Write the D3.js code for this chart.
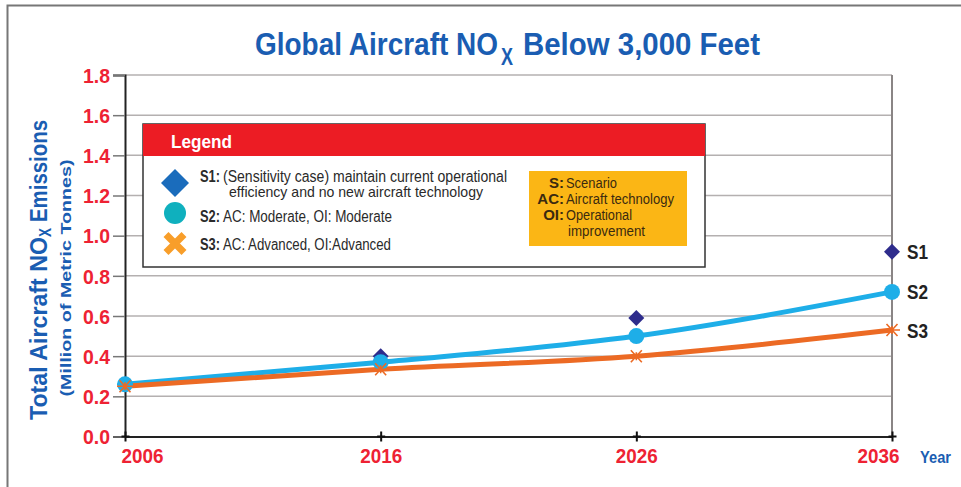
<!DOCTYPE html>
<html>
<head>
<meta charset="utf-8">
<script src="https://cdn.jsdelivr.net/npm/d3@7"></script>
<style>
  body { margin: 0; background: #fff; }
  svg { display: block; font-family: "Liberation Sans", Arial, sans-serif; }
</style>
</head>
<body>
<svg id="chart"></svg>
<script>
const width = 961;
const height = 487;

// chart data
const years = [2006, 2016, 2026, 2036];
const s1Values = [0.26, 0.40, 0.59, 0.92];
const s2Values = [0.26, 0.37, 0.50, 0.72];
const s3Values = [0.25, 0.335, 0.40, 0.53];
const yTicks = [0.0, 0.2, 0.4, 0.6, 0.8, 1.0, 1.2, 1.4, 1.6, 1.8];
const seriesNames = ["S1", "S2", "S3"];

const margin = {left: 125, right: 69, top: 75, bottom: 50};
const plotRight = width - margin.right;
const plotBottom = height - margin.bottom - 0.5;

const blue = "#1a5db2";
const red = "#ee2233";

// squeeze text to a width, the original uses a condensed face
function fit(sel, w) {
    sel.attr("textLength", w).attr("lengthAdjust", "spacingAndGlyphs");
}

// one piece of text, optionally squeezed
function label(parent, txt, opts) {
    const t = parent.append("text")
        .attr("fill", opts.fill || "#2a2a2a")
        .style("font-size", opts.size + "px")
        .style("font-weight", opts.bold ? "bold" : "normal")
        .text(txt);
    if (opts.transform) t.attr("transform", opts.transform);
    else t.attr("x", opts.x).attr("y", opts.y);
    if (opts.anchor) t.attr("text-anchor", opts.anchor);
    if (opts.w) t.call(fit, opts.w);
    return t;
}

const svg = d3.select("#chart").attr("width", width).attr("height", height);

const x = d3.scaleLinear().domain([2006, 2036]).range([margin.left, plotRight]);
const y = d3.scaleLinear().domain([0, 1.8]).range([plotBottom, margin.top]);

// outer frame (left + top)
svg.append("path")
    .attr("d", `M7.5,${height} V5.5 H${width}`)
    .attr("fill", "none")
    .attr("stroke", "#777")
    .attr("stroke-width", 2);

// title
label(svg, "Global Aircraft NO", {x: 255, y: 55, size: 32, bold: true, fill: blue, w: 243});
label(svg, "X", {x: 501, y: 65, size: 23, bold: true, fill: blue, w: 12});
label(svg, "Below 3,000 Feet", {x: 523, y: 55, size: 32, bold: true, fill: blue, w: 237});

// grid lines
svg.append("g")
    .selectAll("line")
    .data(yTicks.filter(d => d > 0))
    .join("line")
    .attr("x1", margin.left)
    .attr("x2", plotRight)
    .attr("y1", d => y(d))
    .attr("y2", d => y(d))
    .attr("stroke", "#b4b0b0")
    .attr("stroke-width", 1.5);

// right border of plot
svg.append("line")
    .attr("x1", plotRight).attr("x2", plotRight)
    .attr("y1", margin.top).attr("y2", plotBottom)
    .attr("stroke", "#8a8585")
    .attr("stroke-width", 2);

// y axis
const yAxis = svg.append("g")
    .attr("transform", `translate(${margin.left},0)`)
    .call(d3.axisLeft(y).tickValues(yTicks).tickFormat(d3.format(".1f")).tickSize(12).tickPadding(3));
yAxis.select(".domain").attr("stroke", "#222").attr("stroke-width", 2);
yAxis.selectAll(".tick line").attr("stroke", "#777").attr("stroke-width", 1.5);
yAxis.selectAll(".tick text")
    .attr("fill", red)
    .attr("dy", "0.36em")
    .style("font-size", "20px")
    .style("font-weight", "bold")
    .style("font-family", "inherit")
    .call(fit, 27);

// x axis
const xAxis = svg.append("g")
    .attr("transform", `translate(0,${plotBottom})`)
    .call(d3.axisBottom(x).tickValues(years).tickFormat(d3.format("d")).tickSize(0).tickPadding(0));
xAxis.select(".domain").attr("stroke", "#222").attr("stroke-width", 2);
xAxis.selectAll(".tick text")
    .attr("fill", red)
    .attr("dy", null)
    .attr("y", 26.5)
    .attr("x", (d, i) => i === 0 ? 17 : (i === years.length - 1 ? -14 : 0))
    .style("font-size", "20px")
    .style("font-weight", "bold")
    .style("font-family", "inherit")
    .call(fit, 42);
xAxis.selectAll(".tick").append("path")
    .attr("d", "M-4,0H4M0,-5V5")
    .attr("stroke", "#111")
    .attr("stroke-width", 2);

label(svg, "Year", {x: 920, y: 463, size: 17, bold: true, fill: blue, w: 31});

// y axis title
label(svg, "Total Aircraft NO", {transform: "translate(47,420) rotate(-90)", size: 24, bold: true, fill: blue, w: 183});
label(svg, "X", {transform: "translate(51,237) rotate(-90)", size: 16, bold: true, fill: blue, w: 9});
label(svg, "Emissions", {transform: "translate(47,222) rotate(-90)", size: 24, bold: true, fill: blue, w: 102});
label(svg, "(Million of Metric Tonnes)", {transform: "translate(71,278) rotate(-90)", anchor: "middle", size: 15, bold: true, fill: blue, w: 237});

// series lines
const line = d3.line()
    .x((d, i) => x(years[i]))
    .y(d => y(d))
    .curve(d3.curveMonotoneX);

svg.append("path")
    .attr("d", line(s2Values))
    .attr("fill", "none")
    .attr("stroke", "#1eaee8")
    .attr("stroke-width", 5);

svg.append("path")
    .attr("d", line(s3Values))
    .attr("fill", "none")
    .attr("stroke", "#ec6a24")
    .attr("stroke-width", 5);

// S1 markers (diamonds, no line)
svg.append("g")
    .selectAll("path")
    .data(s1Values)
    .join("path")
    .attr("transform", (d, i) => `translate(${x(years[i])},${y(d)})`)
    .attr("d", "M0,-8L8,0L0,8L-8,0Z")
    .attr("fill", "#2e2c8c");

// S2 markers
svg.append("g")
    .selectAll("circle")
    .data(s2Values)
    .join("circle")
    .attr("cx", (d, i) => x(years[i]))
    .attr("cy", d => y(d))
    .attr("r", 8)
    .attr("fill", "#1eaee8");

// S3 markers (asterisks)
svg.append("g")
    .selectAll("path")
    .data(s3Values)
    .join("path")
    .attr("transform", (d, i) => `translate(${x(years[i])},${y(d)})`)
    .attr("d", "M-8,0H8M-5.5,-6L5.5,6M-5.5,6L5.5,-6M0,-4V4")
    .attr("stroke", "#ec6a24")
    .attr("stroke-width", 1.6)
    .attr("fill", "none");

// series end labels
const lastValues = [s1Values[3], s2Values[3], s3Values[3]];
svg.append("g")
    .selectAll("text")
    .data(seriesNames)
    .join("text")
    .attr("x", plotRight + 15)
    .attr("y", (d, i) => y(lastValues[i]))
    .attr("dy", "0.36em")
    .attr("fill", "#222")
    .style("font-weight", "bold")
    .style("font-size", "21px")
    .call(fit, 21)
    .text(d => d);

// legend box
const legend = svg.append("g").attr("transform", "translate(143,124)");
legend.append("rect")
    .attr("width", 562).attr("height", 143)
    .attr("fill", "#fff")
    .attr("stroke", "#333")
    .attr("stroke-width", 1.5);
legend.append("rect")
    .attr("width", 562).attr("height", 32)
    .attr("fill", "#ec1c24");
label(legend, "Legend", {x: 28, y: 24, size: 19, bold: true, fill: "#fff", w: 61});

const legendRows = [
    {key: "S1:", text: "(Sensitivity case) maintain current operational", w: 284, y: 58},
    {key: "S2:", text: "AC: Moderate, OI: Moderate", w: 169, y: 97.5},
    {key: "S3:", text: "AC: Advanced, OI:Advanced", w: 168, y: 126}
];
legendRows.forEach(r => {
    label(legend, r.key, {x: 57, y: r.y, size: 16, bold: true, w: 20});
    label(legend, r.text, {x: 80, y: r.y, size: 16, w: r.w});
});
label(legend, "efficiency and no new aircraft technology", {x: 86, y: 73, size: 15, w: 254});

legend.append("path")
    .attr("transform", "translate(32,59)")
    .attr("d", "M0,-14L14,0L0,14L-14,0Z")
    .attr("fill", "#1a6cbc");
legend.append("circle")
    .attr("cx", 32).attr("cy", 89).attr("r", 11)
    .attr("fill", "#0fb0be");
legend.append("path")
    .attr("transform", "translate(32,119.5)")
    .attr("d", "M-9,-9L9,9M-9,9L9,-9")
    .attr("stroke", "#f89e2a")
    .attr("stroke-width", 7);

// abbreviations box
const abbr = svg.append("g").attr("transform", "translate(529,171)");
abbr.append("rect").attr("width", 158).attr("height", 75).attr("fill", "#fbb615");
const abbrKeys = ["S:", "AC:", "OI:", ""];
const abbrTexts = ["Scenario", "Aircraft technology", "Operational", "improvement"];
const abbrWidths = [51, 108, 66, 77];
abbrKeys.forEach((k, i) => {
    const yy = 17 + i * 16;
    if (k) label(abbr, k, {x: 35, y: yy, size: 15, bold: true, fill: "#3a2a10", anchor: "end"});
    label(abbr, abbrTexts[i], {x: i === 3 ? 39 : 37, y: yy, size: 15.5, fill: "#3a2a10", w: abbrWidths[i]});
});
</script>
</body>
</html>
